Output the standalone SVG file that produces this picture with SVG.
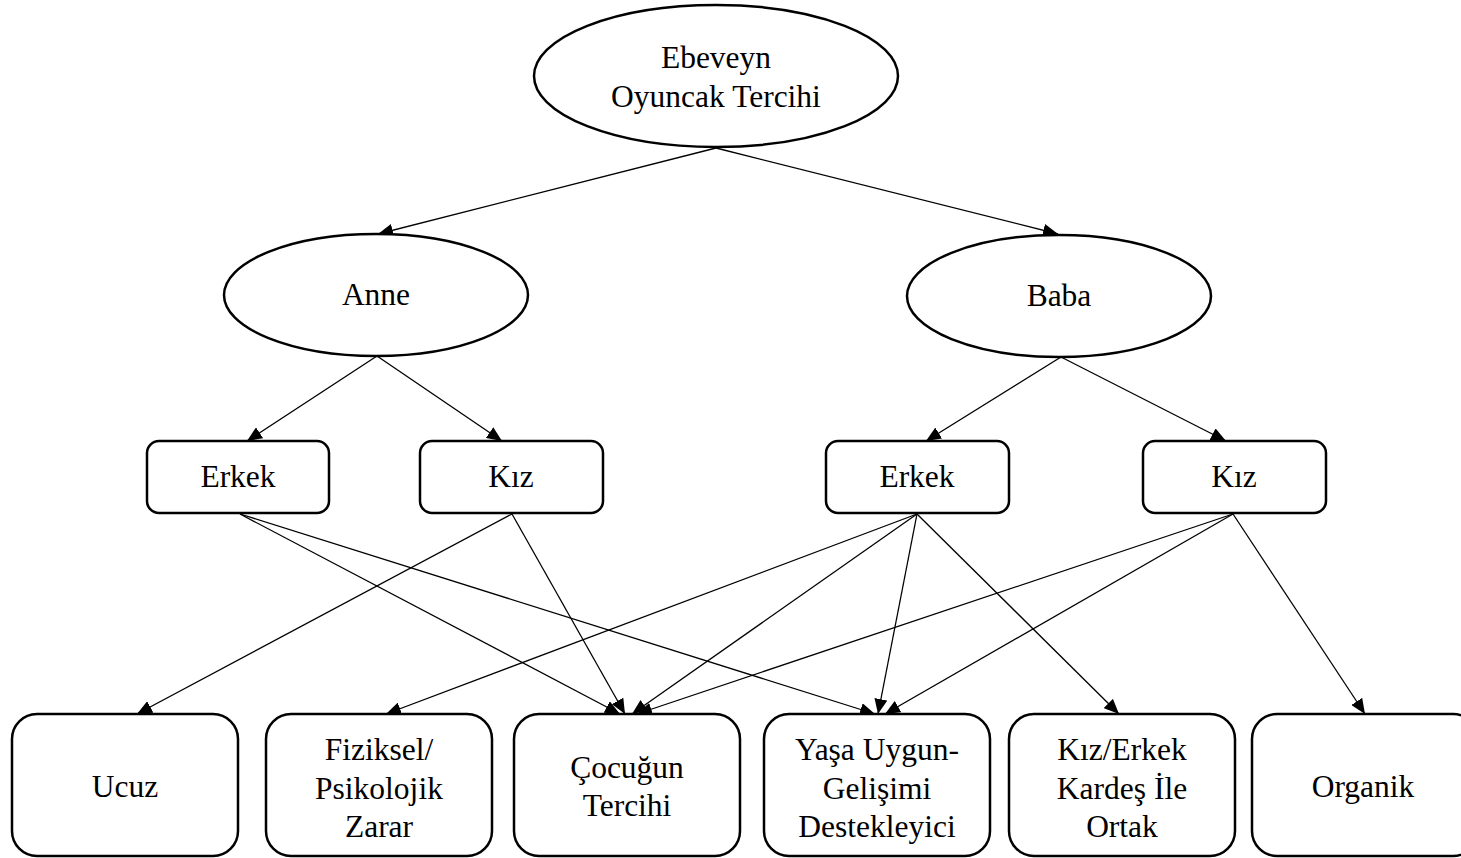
<svg xmlns="http://www.w3.org/2000/svg" width="1461" height="858" viewBox="0 0 1461 858">
<defs>
<style>
.node{fill:#fff;stroke:#000;stroke-width:2.5}
.t{font-family:"Liberation Serif","Times New Roman",serif;font-size:31.5px;fill:#000;text-anchor:middle}
.c{stroke:#000;stroke-width:1.3;fill:none;marker-end:url(#ah)}
</style>
<marker id="ah" markerUnits="userSpaceOnUse" markerWidth="15" markerHeight="13" refX="15" refY="6.5" orient="auto">
<path d="M0,0 L15,6.5 L0,13 z" fill="#000"/>
</marker>
</defs>
<rect width="1461" height="858" fill="#fff"/>
<g id="connectors">
<line class="c" x1="716" y1="148" x2="378" y2="234"/>
<line class="c" x1="716" y1="148" x2="1058" y2="234"/>
<line class="c" x1="377" y1="356" x2="247" y2="441"/>
<line class="c" x1="377" y1="356" x2="502" y2="441"/>
<line class="c" x1="1061" y1="357" x2="926" y2="441"/>
<line class="c" x1="1061" y1="357" x2="1226" y2="441"/>
<line class="c" x1="240" y1="514" x2="620" y2="714"/>
<line class="c" x1="240" y1="514" x2="875" y2="714"/>
<line class="c" x1="512" y1="514" x2="137" y2="714"/>
<line class="c" x1="512" y1="514" x2="625" y2="714"/>
<line class="c" x1="917" y1="514" x2="386" y2="714"/>
<line class="c" x1="917" y1="514" x2="632" y2="714"/>
<line class="c" x1="917" y1="514" x2="878" y2="714"/>
<line class="c" x1="917" y1="514" x2="1119" y2="714"/>
<line class="c" x1="1233" y1="514" x2="637" y2="714"/>
<line class="c" x1="1233" y1="514" x2="885" y2="714"/>
<line class="c" x1="1233" y1="514" x2="1365" y2="714"/>
</g>
<g id="n-ebeveyn">
<ellipse class="node" cx="716" cy="76" rx="182" ry="71"/>
<text class="t" x="716" y="68">Ebeveyn</text>
<text class="t" x="716" y="107">Oyuncak Tercihi</text>
</g>
<g id="n-anne">
<ellipse class="node" cx="376" cy="295" rx="152" ry="61"/>
<text class="t" x="376" y="305">Anne</text>
</g>
<g id="n-baba">
<ellipse class="node" cx="1059" cy="296" rx="152" ry="61"/>
<text class="t" x="1059" y="306">Baba</text>
</g>
<g id="n-anne-erkek">
<rect class="node" x="147" y="441" width="182" height="72" rx="12"/>
<text class="t" x="238" y="487">Erkek</text>
</g>
<g id="n-anne-kiz">
<rect class="node" x="420" y="441" width="183" height="72" rx="12"/>
<text class="t" x="511" y="487">Kız</text>
</g>
<g id="n-baba-erkek">
<rect class="node" x="826" y="441" width="183" height="72" rx="12"/>
<text class="t" x="917" y="487">Erkek</text>
</g>
<g id="n-baba-kiz">
<rect class="node" x="1143" y="441" width="183" height="72" rx="12"/>
<text class="t" x="1234" y="487">Kız</text>
</g>
<g id="n-ucuz">
<rect class="node" x="12" y="714" width="226" height="142" rx="25"/>
<text class="t" x="125" y="797">Ucuz</text>
</g>
<g id="n-fiziksel">
<rect class="node" x="266" y="714" width="226" height="142" rx="25"/>
<text class="t" x="379" y="760">Fiziksel/</text>
<text class="t" x="379" y="799">Psikolojik</text>
<text class="t" x="379" y="837">Zarar</text>
</g>
<g id="n-cocugun">
<rect class="node" x="514" y="714" width="226" height="142" rx="25"/>
<text class="t" x="627" y="778">Çocuğun</text>
<text class="t" x="627" y="816">Tercihi</text>
</g>
<g id="n-yasa">
<rect class="node" x="764" y="714" width="226" height="142" rx="25"/>
<text class="t" x="877" y="760">Yaşa Uygun-</text>
<text class="t" x="877" y="799">Gelişimi</text>
<text class="t" x="877" y="837">Destekleyici</text>
</g>
<g id="n-kardes">
<rect class="node" x="1009" y="714" width="226" height="142" rx="25"/>
<text class="t" x="1122" y="760">Kız/Erkek</text>
<text class="t" x="1122" y="799">Kardeş İle</text>
<text class="t" x="1122" y="837">Ortak</text>
</g>
<g id="n-organik">
<rect class="node" x="1252" y="714" width="226" height="142" rx="25"/>
<text class="t" x="1363" y="797">Organik</text>
</g>
</svg>
